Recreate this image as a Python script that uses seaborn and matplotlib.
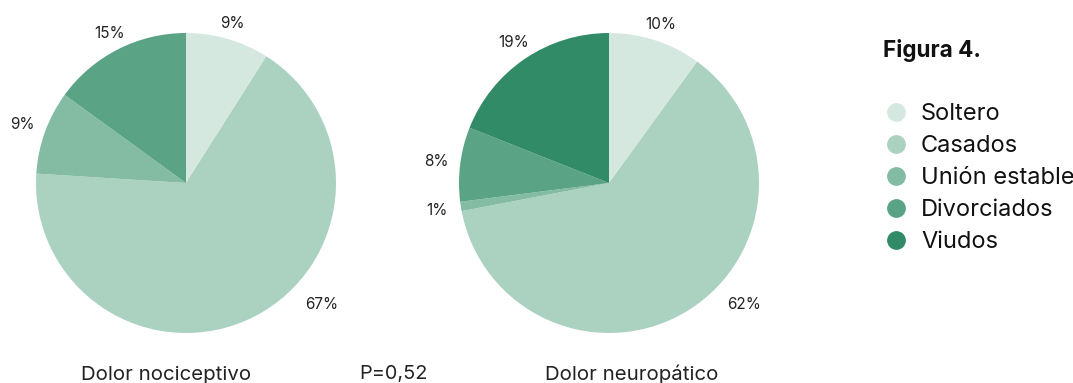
import matplotlib
matplotlib.use("Agg")
import matplotlib.pyplot as plt
from matplotlib.lines import Line2D
import seaborn as sns
import numpy as np

# Estado civil por tipo de dolor (%)
categories = ["Soltero", "Casados", "Unión estable", "Divorciados", "Viudos"]
nociceptivo = [9, 67, 9, 15, 0]
neuropatico = [10, 62, 1, 8, 19]
group_titles = ["Dolor nociceptivo", "Dolor neuropático"]
p_value_text = "P=0,52"
figure_title = "Figura 4."

colors = ["#d5e8df", "#abd1c1", "#84bba3", "#5aa385", "#318b66"]

sns.set_theme(style="white")
plt.rcParams["font.family"] = ["Inter", "DejaVu Sans"]

W, H = 1073, 383
fig = plt.figure(figsize=(W / 100, H / 100), dpi=100)
fig.patch.set_facecolor("white")

R_PX = 150
TEXT = "#222222"


def pie_axes(cx, cy):
    return fig.add_axes([(cx - R_PX) / W, (H - cy - R_PX) / H, 2 * R_PX / W, 2 * R_PX / H])


def draw_pie(ax, values):
    vals = np.array(values, dtype=float)
    keep = vals > 0
    wedges, _ = ax.pie(vals[keep], colors=[c for c, k in zip(colors, keep) if k],
                       startangle=90, counterclock=False, radius=1,
                       wedgeprops=dict(linewidth=0))
    ax.set_xlim(-1, 1)
    ax.set_ylim(-1, 1)
    ax.set_aspect("equal")
    ax.axis("off")
    biggest = int(np.argmax(vals[keep]))
    for i, (w, v) in enumerate(zip(wedges, vals[keep])):
        if i == biggest:
            # large slice label sits at the lower right of the pie
            ang, r = np.deg2rad(-41.9), 1.213
        else:
            ang = np.deg2rad((w.theta1 + w.theta2) / 2)
            # labels beside the pie need more room than labels above it
            r = 1.09 + 0.07 * abs(np.cos(ang))
        ax.text(r * np.cos(ang), r * np.sin(ang), f"{int(v)}%", ha="center", va="center",
                fontsize=11, color=TEXT, clip_on=False)


ax1 = pie_axes(186, 183)
draw_pie(ax1, nociceptivo)
ax2 = pie_axes(609, 183)
draw_pie(ax2, neuropatico)

base_y = 1 - 379.5 / H
fig.text(166 / W, base_y, group_titles[0], ha="center", va="baseline", fontsize=14.7, color=TEXT)
fig.text(632 / W, base_y, group_titles[1], ha="center", va="baseline", fontsize=14.7, color=TEXT)
fig.text(393 / W, base_y, p_value_text, ha="center", va="baseline", fontsize=14.3, color=TEXT)

fig.text(883 / W, 1 - 57 / H, figure_title, ha="left", va="baseline", fontsize=16.2,
         fontweight="bold", color="#111111")

handles = [Line2D([0], [0], marker="o", linestyle="", markersize=12.5,
                  markerfacecolor=c, markeredgecolor=c) for c in colors]
fig.legend(handles, categories, loc="upper left", bbox_to_anchor=(886.5 / W, 1 - 103.5 / H),
           frameon=False, fontsize=17, handlelength=0.8, handletextpad=0.66,
           labelspacing=0.42, borderaxespad=0, borderpad=0, labelcolor="#111111")

fig.savefig("out.png", dpi=100, facecolor="white")
